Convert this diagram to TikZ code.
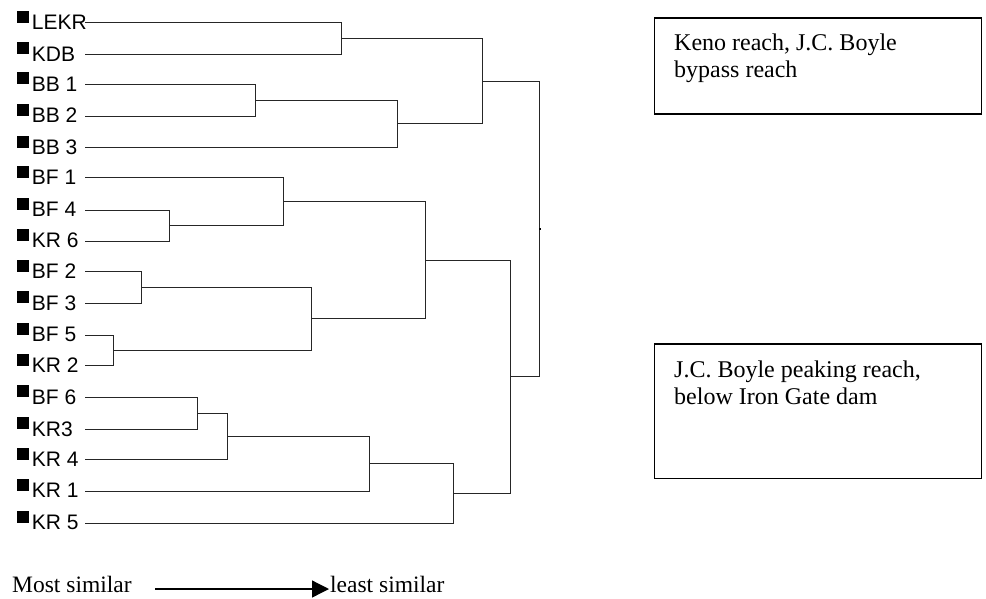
\documentclass[tikz,border=0pt]{standalone}
\usepackage{fontspec}
\setmainfont{Liberation Serif}
\newfontfamily\arialfont{Liberation Sans}
\usetikzlibrary{calc,arrows.meta}
\begin{document}
\begin{tikzpicture}[x=1pt,y=-1pt,
  leaflabel/.style={anchor=base west,inner sep=0pt,font=\arialfont\fontsize{21}{24}\selectfont},
  branch/.style={line width=0.9pt,black!85},
  infobox/.style={draw,line width=1.2pt,anchor=north west,inner sep=0pt},
  boxtext/.style={anchor=base west,inner sep=0pt,align=left,font=\fontsize{24}{27.3}\selectfont},
  bottomtext/.style={anchor=base west,inner sep=0pt,font=\fontsize{23.5}{26}\selectfont}]
\useasboundingbox (0,0) rectangle (986,598);

% leaves: name / y / label
\foreach \n/\y/\t in {l1/22.7/LEKR, l2/54.3/KDB, l3/84.3/BB 1, l4/116/BB 2, l5/147.7/BB 3,
  l6/177.7/BF 1, l7/210/BF 4, l8/241/KR 6, l9/271.7/BF 2, l10/303.3/BF 3, l11/335/BF 5,
  l12/365.7/KR 2, l13/397.3/BF 6, l14/429.3/KR3, l15/459.5/KR 4, l16/491/KR 1, l17/523/KR 5}{
  \fill (16.5,\y-12) rectangle (28.5,\y);
  \node[leaflabel] (t\n) at (31.7,\y+6.7) {\t};
  \coordinate (\n) at (85,\y);
}

% merge points: name / child1 / child2 / x
\foreach \m/\a/\b/\x in {A/l1/l2/341.7, B/l3/l4/255, C/B/l5/397.3, D/A/C/482.7,
  E/l7/l8/169.3, F/l6/E/283.3, G/l9/l10/141.3, H/l11/l12/113.3, I/G/H/311, J/F/I/425,
  K/l13/l14/197.3, L/K/l15/227, M/L/l16/369.3, N/M/l17/453, O/J/N/510.7, R/D/O/539}{
  \coordinate (tmp) at ($(\a)!0.5!(\b)$);
  \coordinate (\m) at (\x,0 |- tmp);
  \draw[branch] (\a) -| (\m);
  \draw[branch] (\b) -| (\m);
}
\coordinate (Rstub) at ($(R)+(1.5,0)$);
\draw[line width=1.4pt] (R) -- (Rstub);

% legend boxes
\node[infobox,minimum width=327pt,minimum height=96pt] (box1) at (654,17.3) {};
\node[boxtext] (box1text) at (674,77.3) {Keno reach, J.C. Boyle\\bypass reach};
\node[infobox,minimum width=327pt,minimum height=134.4pt] (box2) at (654,343.3) {};
\node[boxtext] (box2text) at (674,404.5) {J.C. Boyle peaking reach,\\below Iron Gate dam};

% similarity arrow
\node[bottomtext] (most) at (12,592.7) {Most similar};
\node[bottomtext] (least) at (330,592.7) {least similar};
\coordinate (arrS) at (155,589);
\coordinate (arrE) at (329,589);
\draw[line width=1.3pt,-{Triangle[length=17pt,width=17pt]}] (arrS) -- (arrE);
\end{tikzpicture}
\end{document}
